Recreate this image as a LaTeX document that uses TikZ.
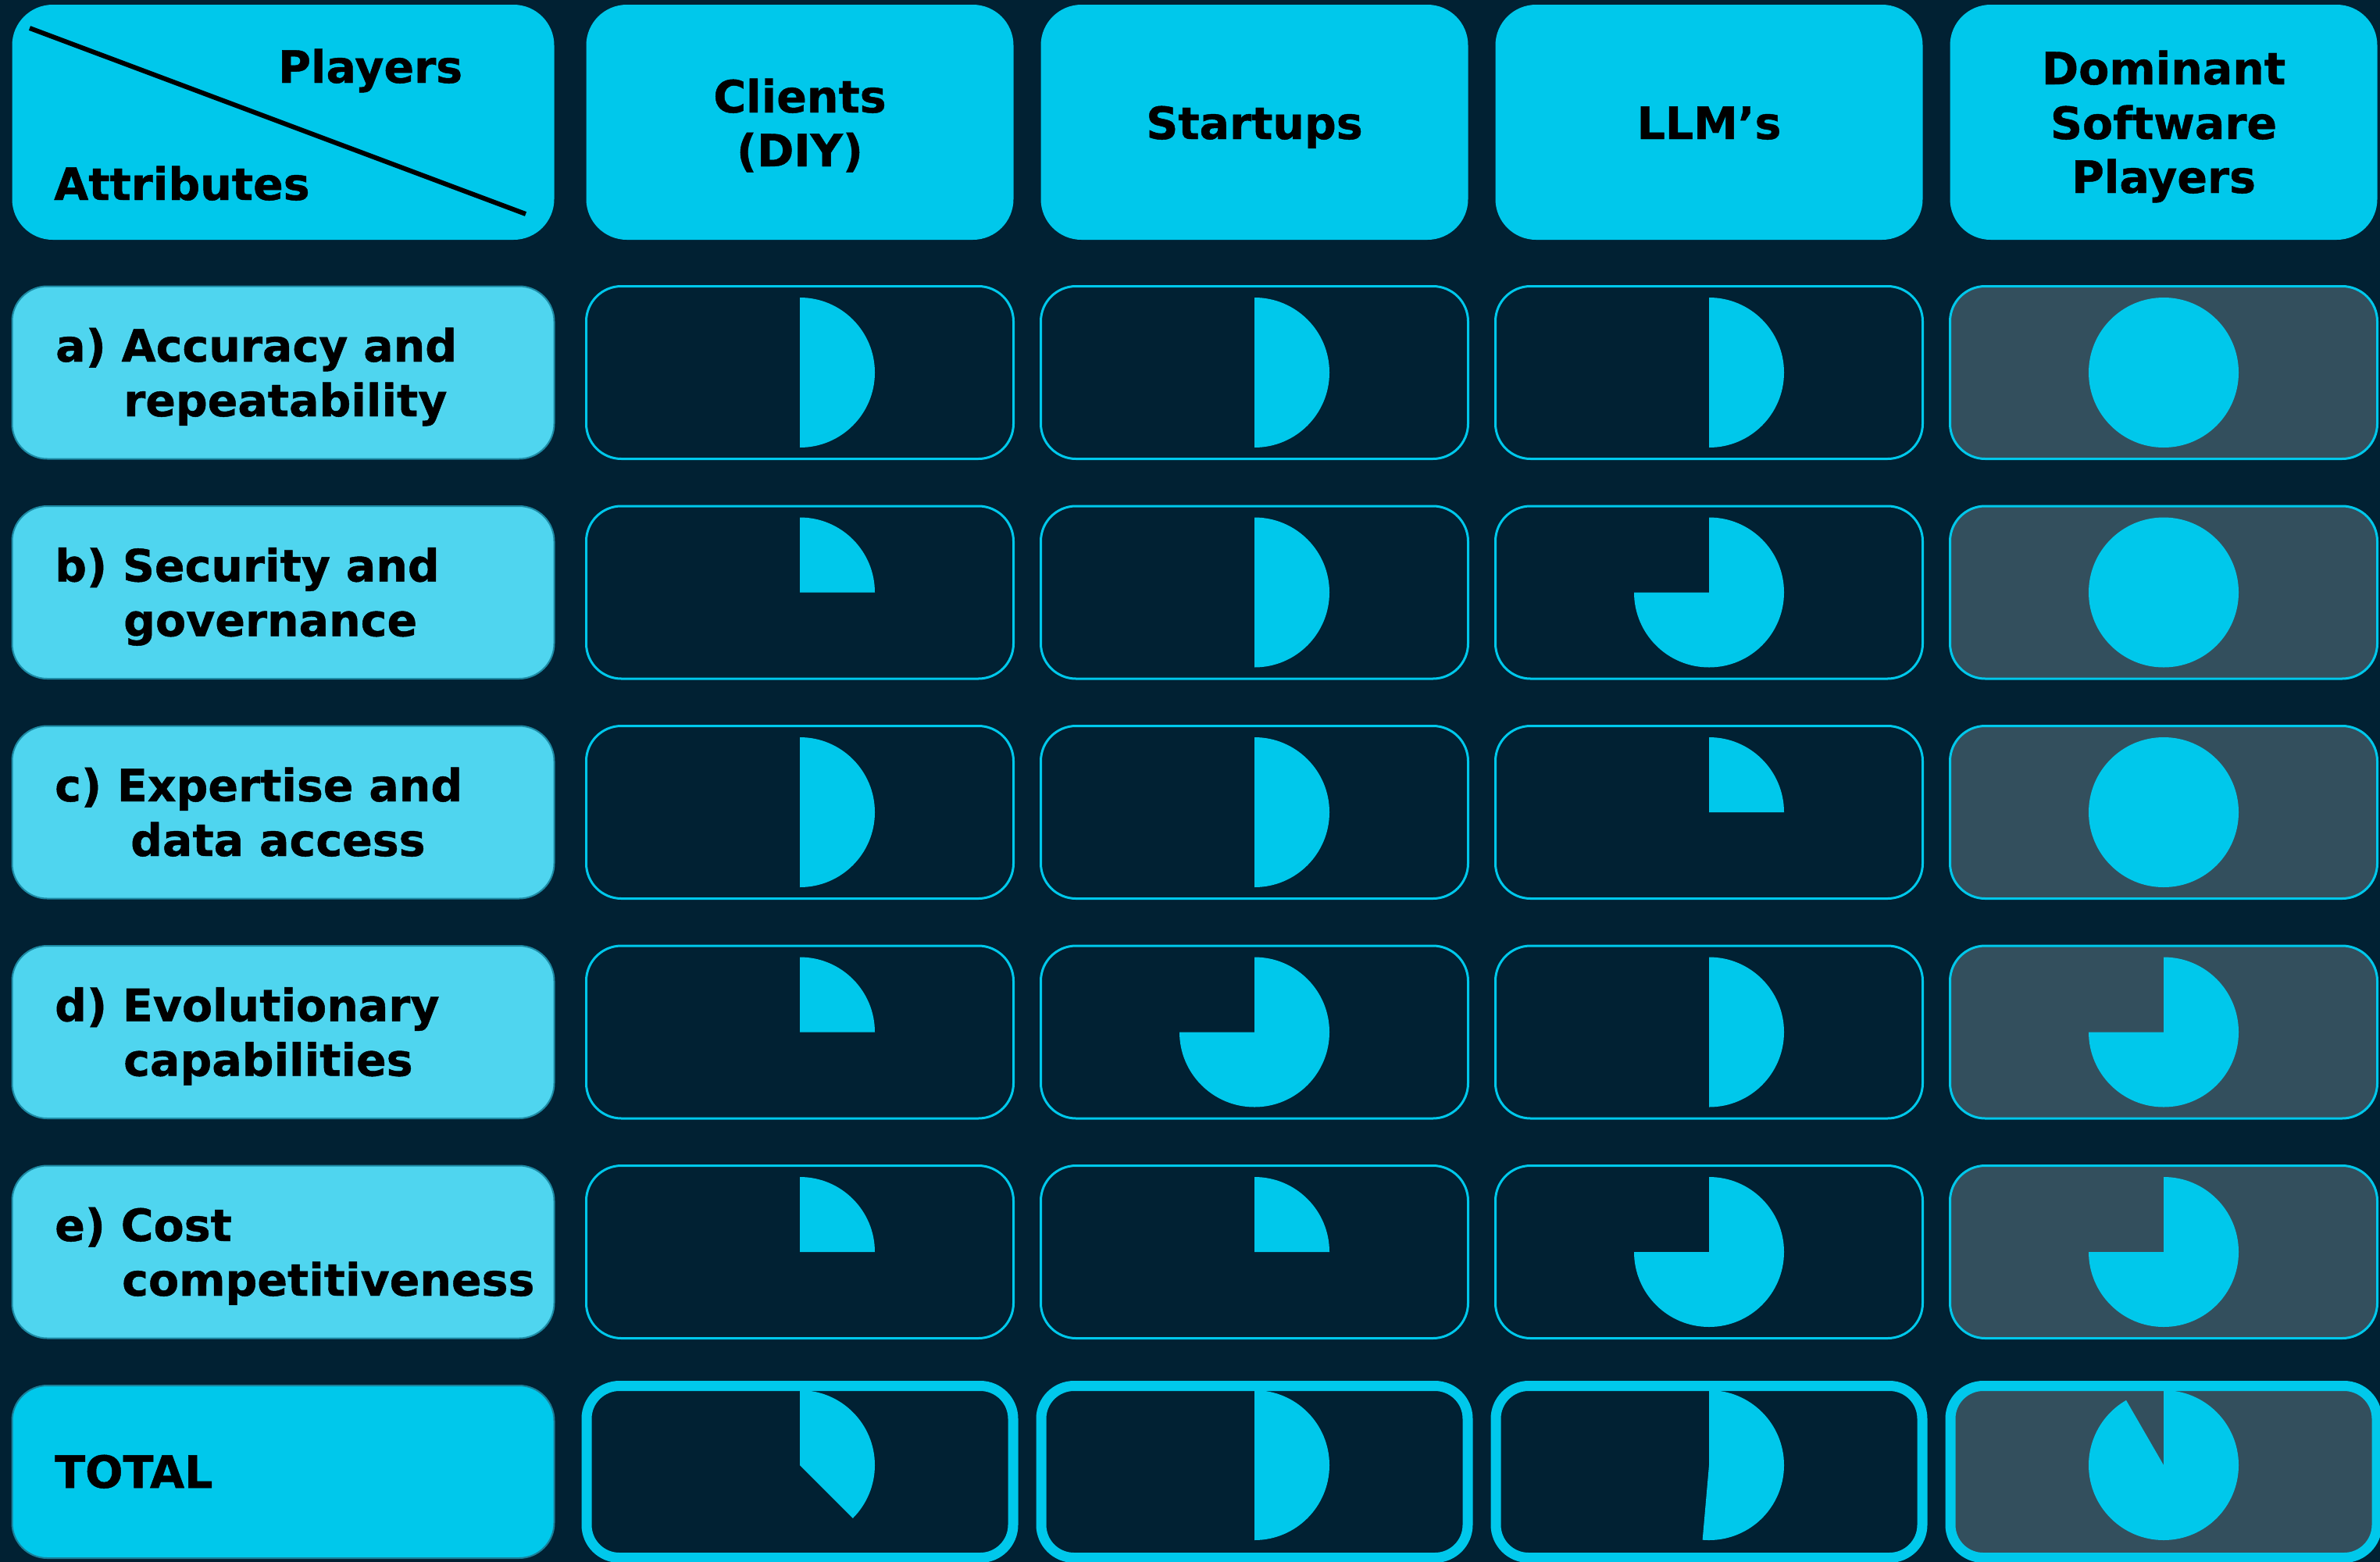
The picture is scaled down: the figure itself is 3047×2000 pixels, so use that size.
\documentclass[tikz,border=0pt]{standalone}
\usepackage{fontspec}
\setmainfont{DejaVu Sans}[BoldFeatures={FakeBold=0.8}]
\definecolor{bgc}{HTML}{012133}
\definecolor{cy}{HTML}{00C8EB}
\definecolor{cyl}{HTML}{4FD5EF}
\definecolor{attrline}{HTML}{1E8BA5}
\definecolor{totline}{HTML}{1A7F99}
\definecolor{domfill}{HTML}{334F5D}
\newcommand\mypie[2]{\fill[cy] (#1) -- ++(0,96pt) arc[start angle=90, delta angle=-#2, radius=96pt] -- cycle;}
\tikzset{
  hdr/.style={fill=cy, rounded corners=52pt, minimum width=547pt, minimum height=301pt, inner sep=0pt, outer sep=0pt},
  attrbox/.style={fill=cyl, draw=attrline, line width=2pt, rounded corners=45pt, minimum width=694pt, minimum height=221pt, inner sep=0pt, outer sep=0pt},
  cellbox/.style={draw=cy, line width=3pt, rounded corners=45pt, minimum width=547pt, minimum height=221pt, inner sep=0pt, outer sep=0pt},
  totbox/.style={draw=cy, line width=13pt, rounded corners=42pt, minimum width=546pt, minimum height=220pt, inner sep=0pt, outer sep=0pt},
  domcell/.style={fill=domfill},
  htext/.style={font=\fontsize{57}{68}\selectfont\bfseries, anchor=base, inner sep=0pt, text=black},
  htextw/.style={font=\fontsize{57}{68}\selectfont\bfseries, anchor=base west, inner sep=0pt, text=black},
  atext/.style={font=\fontsize{57}{70}\selectfont\bfseries, anchor=base west, inner sep=0pt, text=black}
}
\begin{document}
\begin{tikzpicture}[x=1pt,y=1pt]
\useasboundingbox (0,0) rectangle (3047,-2000);
\fill[bgc] (0,0) rectangle (3047,-2000);

% header row
\node[hdr, minimum width=694pt] (h0) at (362.5,-156.5) {};
\coordinate (d1) at (38,-36);
\coordinate (d2) at (673,-274);
\draw[line width=6pt, black] (d1) -- (d2);
\node[htextw] (tplayers) at (356,-106) {Players};
\node[htextw] (tattr) at (69,-256) {Attributes};

\node[hdr] (h1) at (1024,-156.5) {};
\node[hdr] (h2) at (1606,-156.5) {};
\node[hdr] (h3) at (2188,-156.5) {};
\node[hdr] (h4) at (2770,-156.5) {};
\node[htext] (th1a) at (1024,-144) {Clients};
\node[htext] (th1b) at (1024,-213) {(DIY)};
\node[htext] (th2) at (1606,-178) {Startups};
\node[htext] (th3) at (2188,-178) {LLM’s};
\node[htext] (th4a) at (2770,-108) {Dominant};
\node[htext] (th4b) at (2770,-178) {Software};
\node[htext] (th4c) at (2770,-247) {Players};

% attribute column
\node[attrbox] (a1) at (362.5,-477) {};
\node[attrbox] (a2) at (362.5,-758.5) {};
\node[attrbox] (a3) at (362.5,-1040) {};
\node[attrbox] (a4) at (362.5,-1321.5) {};
\node[attrbox] (a5) at (362.5,-1603) {};
\node[attrbox, fill=cy, draw=totline] (a6) at (362.5,-1884.5) {};

\node[atext] (l1a) at (71,-463) {a) Accuracy and};
\node[atext] (l1b) at (158,-533) {repeatability};
\node[atext] (l2a) at (70,-744.5) {b) Security and};
\node[atext] (l2b) at (158,-814.5) {governance};
\node[atext] (l3a) at (70,-1026) {c) Expertise and};
\node[atext] (l3b) at (167,-1096) {data access};
\node[atext] (l4a) at (70,-1307.5) {d) Evolutionary};
\node[atext] (l4b) at (158,-1377.5) {capabilities};
\node[atext] (l5a) at (70,-1589) {e) Cost};
\node[atext] (l5b) at (156,-1659) {competitiveness};
\node[atext] (l6) at (70,-1905) {TOTAL};

% cells
\foreach \r/\yy in {1/-477, 2/-758.5, 3/-1040, 4/-1321.5, 5/-1603}{
  \node[cellbox] (c\r1) at (1024,\yy) {};
  \node[cellbox] (c\r2) at (1606,\yy) {};
  \node[cellbox] (c\r3) at (2188,\yy) {};
  \node[cellbox, domcell] (c\r4) at (2770,\yy) {};
}
\node[totbox] (c61) at (1024,-1884.5) {};
\node[totbox] (c62) at (1606,-1884.5) {};
\node[totbox] (c63) at (2188,-1884.5) {};
\node[totbox, domcell] (c64) at (2770,-1884.5) {};

% pies (clockwise sweep from top, in degrees)
\foreach \r/\c/\s in {1/1/180, 1/2/180, 1/3/180, 1/4/360,
                      2/1/90,  2/2/180, 2/3/270, 2/4/360,
                      3/1/180, 3/2/180, 3/3/90,  3/4/360,
                      4/1/90,  4/2/270, 4/3/180, 4/4/270,
                      5/1/90,  5/2/90,  5/3/270, 5/4/270}{
  \mypie{c\r\c.center}{\s}
}
\foreach \c/\s in {1/135, 2/180, 3/185, 4/330}{
  \coordinate (p6\c) at ([yshift=8.5pt]c6\c.center);
  \mypie{p6\c}{\s}
}
\end{tikzpicture}
\end{document}
